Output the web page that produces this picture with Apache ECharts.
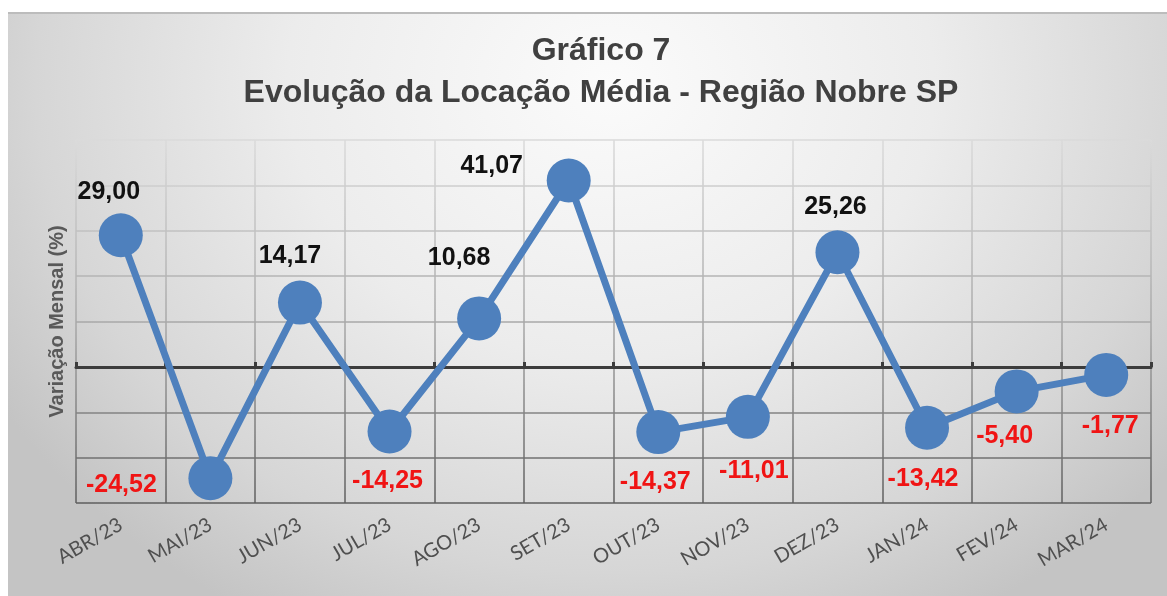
<!DOCTYPE html>
<html lang="pt">

<head>
    <meta charset="utf-8"/>
    <title>Gráfico 7 - Evolução da Locação Média</title>
    <script src="https://cdn.jsdelivr.net/npm/echarts@6/dist/echarts.min.js"></script>
    <style>
        html, body {
            margin: 0;
            width: 1167px;
            height: 596px;
            background: #fff;
            overflow: hidden;
        }

        .panel {
            position: absolute;
            left: 8px;
            top: 12px;
            width: 1159px;
            height: 584px;
            border-top: 2px solid #bcbcbc;
            box-sizing: border-box;
            background: radial-gradient(ellipse 62% 105% at 52% 12%, #fbfbfb 0%, #ececec 45%, #d6d6d6 80%, #c4c4c4 100%);
        }

        .chart {
            position: absolute;
            left: 0;
            top: 0;
            width: 1167px;
            height: 596px;
        }
    </style>
</head>

<body>
<div class="panel"></div>
<div class="chart"></div>
<script>
    const months = ["ABR/23", "MAI/23", "JUN/23", "JUL/23", "AGO/23", "SET/23",
        "OUT/23", "NOV/23", "DEZ/23", "JAN/24", "FEV/24", "MAR/24"];
    const values = [29.00, -24.52, 14.17, -14.25, 10.68, 41.07, -14.37, -11.01, 25.26, -13.42, -5.40, -1.77];
    // where each value label sits relative to its marker (px)
    const labelOffsets = [[-12, -43], [-89, 7], [-10, -46], [-2, 50], [-20, -60], [-77, -14],
        [-3, 50], [6, 54], [-2, -45], [-4, 51], [-12, 45], [4, 51]];

    const chart = echarts.init(document.querySelector(".chart"), null, {renderer: "canvas"});

    // gridlines fade from light at the top to dark at the bottom
    const gridColor = new echarts.graphic.LinearGradient(0, 140, 0, 503, [
        {offset: 0, color: "#dadada"},
        {offset: 0.5, color: "#a8a8a8"},
        {offset: 1, color: "#5e5e5e"}
    ], true);

    const fmt = v => v.toFixed(2).replace(".", ",");

    const points = values.map((v, i) => ({
        value: v,
        label: {
            offset: labelOffsets[i],
            color: v < 0 ? "#f01414" : "#111111"
        }
    }));

    const option = {
        backgroundColor: "transparent",
        animation: false,
        title: {
            text: "Gráfico 7\nEvolução da Locação Média - Região Nobre SP",
            left: 596,
            textAlign: "center",
            top: 25,
            textStyle: {
                fontFamily: "Liberation Sans",
                fontWeight: "bold",
                fontSize: 32,
                lineHeight: 42,
                color: "#404040"
            }
        },
        grid: {
            left: 76,
            right: 16,
            top: 140,
            bottom: 93
        },
        xAxis: [{
            type: "category",
            data: months,
            boundaryGap: true,
            axisLine: {show: false, onZero: false},
            axisTick: {show: false},
            axisLabel: {
                rotate: 30,
                margin: 20,
                fontFamily: "Lato",
                fontSize: 20,
                color: "#4f4f4f",
                interval: 0
            },
            splitLine: {
                show: true,
                interval: 0,
                lineStyle: {color: gridColor, width: 1.5}
            }
        }, {
            type: "category",
            data: months,
            boundaryGap: true,
            axisLine: {
                show: true,
                onZero: true,
                lineStyle: {color: "#3c3c3c", width: 3}
            },
            axisTick: {
                show: true,
                interval: 0,
                length: 5,
                lineStyle: {color: "#3c3c3c", width: 3}
            },
            axisLabel: {show: false},
            splitLine: {show: false}
        }],
        yAxis: {
            type: "value",
            min: -30,
            max: 50,
            interval: 10,
            name: "Variação Mensal (%)",
            nameLocation: "middle",
            nameGap: 9,
            nameTextStyle: {
                fontFamily: "Liberation Sans",
                fontWeight: "bold",
                fontSize: 20,
                color: "#595959"
            },
            axisLine: {show: false},
            axisTick: {show: false},
            axisLabel: {show: false},
            splitLine: {
                show: true,
                lineStyle: {color: gridColor, width: 1.5}
            }
        },
        series: [{
            type: "line",
            xAxisIndex: 0,
            data: points,
            symbol: "circle",
            symbolSize: 44,
            lineStyle: {color: "#4e80bd", width: 7},
            itemStyle: {color: "#4e80bd"},
            label: {
                show: true,
                position: "inside",
                formatter: p => fmt(p.value),
                fontFamily: "Liberation Sans",
                fontWeight: "bold",
                fontSize: 25
            },
            z: 5
        }]
    };
    chart.setOption(option);
</script>
</body>

</html>
